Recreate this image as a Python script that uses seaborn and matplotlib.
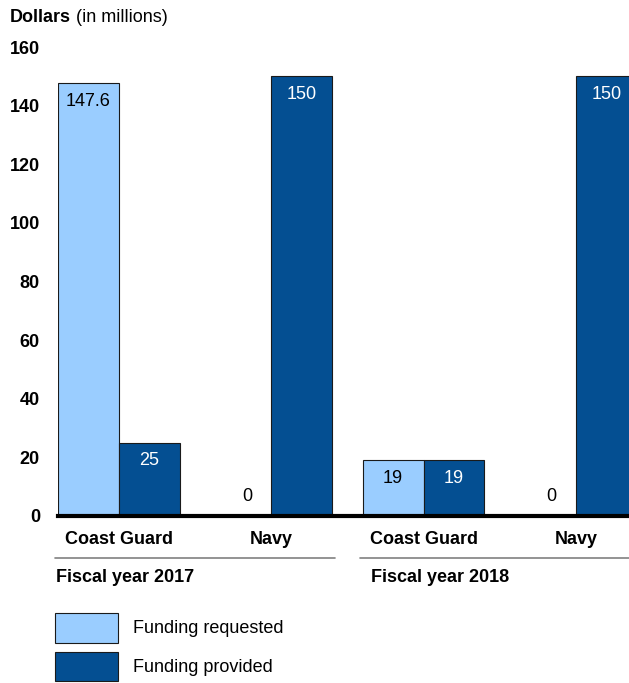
import pandas as pd
import matplotlib
matplotlib.use("Agg")
import matplotlib.pyplot as plt
import matplotlib.transforms as mtransforms
import seaborn as sns

# chart values
fiscal_years = ["Fiscal year 2017", "Fiscal year 2018"]
agencies = ["Coast Guard", "Navy", "Coast Guard", "Navy"]
bar_years = ["2017", "2017", "2018", "2018"]
requested = [147.6, 0, 19, 0]
provided = [25, 150, 19, 150]
series = ["Funding requested", "Funding provided"]
yticks = [0, 20, 40, 60, 80, 100, 120, 140, 160]

light = "#9ACDFF"
dark = "#044F92"

rows = []
for yr, ag, r, p in zip(bar_years, agencies, requested, provided):
    rows.append({"bar": yr + " " + ag, "series": series[0], "value": r})
    rows.append({"bar": yr + " " + ag, "series": series[1], "value": p})
df = pd.DataFrame(rows)
order = [yr + " " + ag for yr, ag in zip(bar_years, agencies)]

sns.set_style("white")
plt.rcParams['font.family'] = ['Liberation Sans', 'DejaVu Sans']
plt.rcParams['font.size'] = 13
for k in ["text.color", "axes.labelcolor", "xtick.color", "ytick.color"]:
    plt.rcParams[k] = "black"

fig = plt.figure(figsize=(6.29, 6.83), dpi=100)
ax = fig.add_axes([58 / 629, 1 - 516 / 683, 1 - 58 / 629, (516 - 47) / 683])

sns.barplot(data=df, x="bar", y="value", hue="series", order=order,
            hue_order=series, palette=[light, dark], saturation=1,
            edgecolor="#1a1a1a", linewidth=0.8, ax=ax)

ax.set_xlim(-0.4, -0.4 + (629 - 58) / 152.3)
ax.set_ylim(0, 160)
ax.set_yticks(yticks)
ax.set_yticklabels([str(t) for t in yticks], fontweight="bold", fontsize=13)
ax.set_xticks(range(len(agencies)))
ax.set_xticklabels(agencies, fontweight="bold", fontsize=13)
ax.tick_params(axis="y", length=0, pad=13)
ax.tick_params(axis="x", length=0, pad=10.5)
ax.set_xlabel("")
ax.set_ylabel("")
for s in ["left", "right", "top"]:
    ax.spines[s].set_visible(False)
ax.spines["bottom"].set_linewidth(3)
ax.spines["bottom"].set_color("black")

# value labels
for i, cont in enumerate(ax.containers):
    for bar in cont:
        h = bar.get_height()
        cx = bar.get_x() + bar.get_width() / 2
        if h > 0:
            ax.annotate(f"{h:g}", (cx, h), xytext=(0, -13), textcoords="offset points",
                        ha="center", va="center", fontsize=13,
                        color="white" if i == 1 else "black")
        else:
            ax.annotate("0", (cx + 0.04, 0), xytext=(0, 13.7), textcoords="offset points",
                        ha="center", va="center", fontsize=13, color="black")

# fiscal year grouping
trans = mtransforms.blended_transform_factory(ax.transData, fig.transFigure)
label_x = [-0.41, 1.655]
for g, fy in enumerate(fiscal_years):
    ax.plot([2 * g - 0.42, 2 * g + 1.42], [1 - 558 / 683] * 2, color="#808080",
            lw=1.2, transform=trans, clip_on=False)
    ax.text(label_x[g], 1 - 577 / 683, fy, transform=trans, fontsize=13,
            fontweight="bold", ha="left", va="center")

# title
t1 = fig.text(10 / 629, 1 - 17 / 683, "Dollars", fontsize=13, fontweight="bold",
              ha="left", va="center")
fig.canvas.draw()
ax.annotate(" (in millions)", xy=(1, 0), xycoords=t1, fontsize=13,
            ha="left", va="bottom", annotation_clip=False)

# legend
handles, labels = ax.get_legend_handles_labels()
ax.legend(handles, labels, loc="upper left",
          bbox_to_anchor=(55 / 629, 1 - 613 / 683), bbox_transform=fig.transFigure,
          frameon=False, borderpad=0, borderaxespad=0, fontsize=13,
          handlelength=3.49, handleheight=2.15, labelspacing=0.5,
          handletextpad=0.83)

fig.savefig("out.png", dpi=100)
